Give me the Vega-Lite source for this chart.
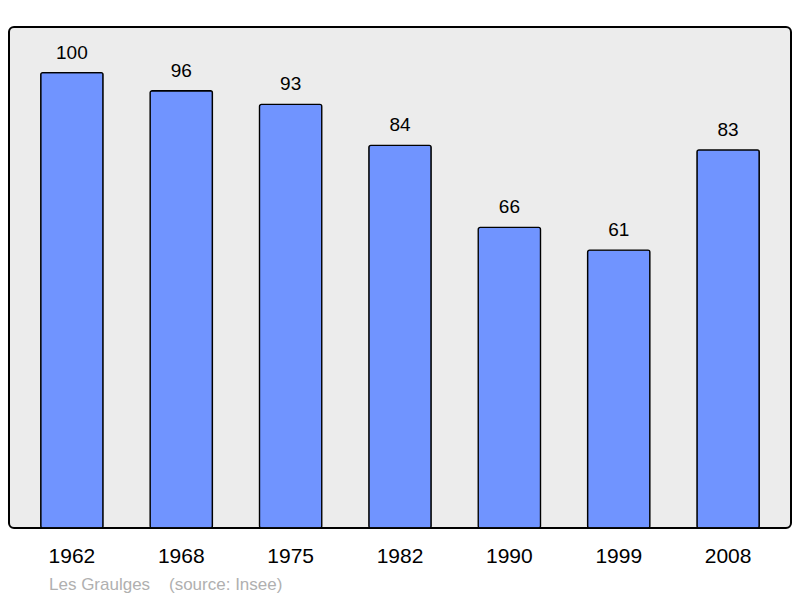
{
  "$schema": "https://vega.github.io/schema/vega-lite/v6.json",
  "width": 782,
  "height": 501,
  "autosize": "none",
  "padding": {"left": 9, "top": 27, "right": 9, "bottom": 70},
  "background": "white",
  "data": {
    "values": [
      {"year": "1962", "pop": 100},
      {"year": "1968", "pop": 96},
      {"year": "1975", "pop": 93},
      {"year": "1982", "pop": 84},
      {"year": "1990", "pop": 66},
      {"year": "1999", "pop": 61},
      {"year": "2008", "pop": 83}
    ]
  },
  "title": {
    "text": "Les Graulges\u00a0\u00a0\u00a0\u00a0(source: Insee)",
    "orient": "bottom",
    "anchor": "start",
    "frame": "group",
    "dx": 40,
    "offset": 11,
    "fontSize": 17,
    "fontWeight": "normal",
    "color": "#b0b0b0",
    "font": "Liberation Sans"
  },
  "encoding": {
    "x": {
      "field": "year",
      "type": "ordinal",
      "scale": {"paddingInner": 0.43, "paddingOuter": 0.29},
      "axis": {
        "title": null,
        "ticks": false,
        "domain": false,
        "labelAngle": 0,
        "labelFontSize": 21,
        "labelFont": "Liberation Sans",
        "labelColor": "black",
        "labelPadding": 17
      }
    },
    "y": {
      "field": "pop",
      "type": "quantitative",
      "scale": {"domain": [0, 110], "nice": false},
      "axis": null
    }
  },
  "layer": [
    {
      "mark": {
        "type": "bar",
        "color": "#7094ff",
        "stroke": "black",
        "strokeWidth": 1.3,
        "cornerRadius": 2
      }
    },
    {
      "mark": {
        "type": "text",
        "baseline": "alphabetic",
        "dy": -14,
        "fontSize": 19,
        "font": "Liberation Sans",
        "color": "black"
      },
      "encoding": {"text": {"field": "pop", "type": "quantitative"}}
    }
  ],
  "config": {
    "view": {
      "fill": "#ececec",
      "stroke": "black",
      "strokeWidth": 2,
      "cornerRadius": 5
    }
  }
}
